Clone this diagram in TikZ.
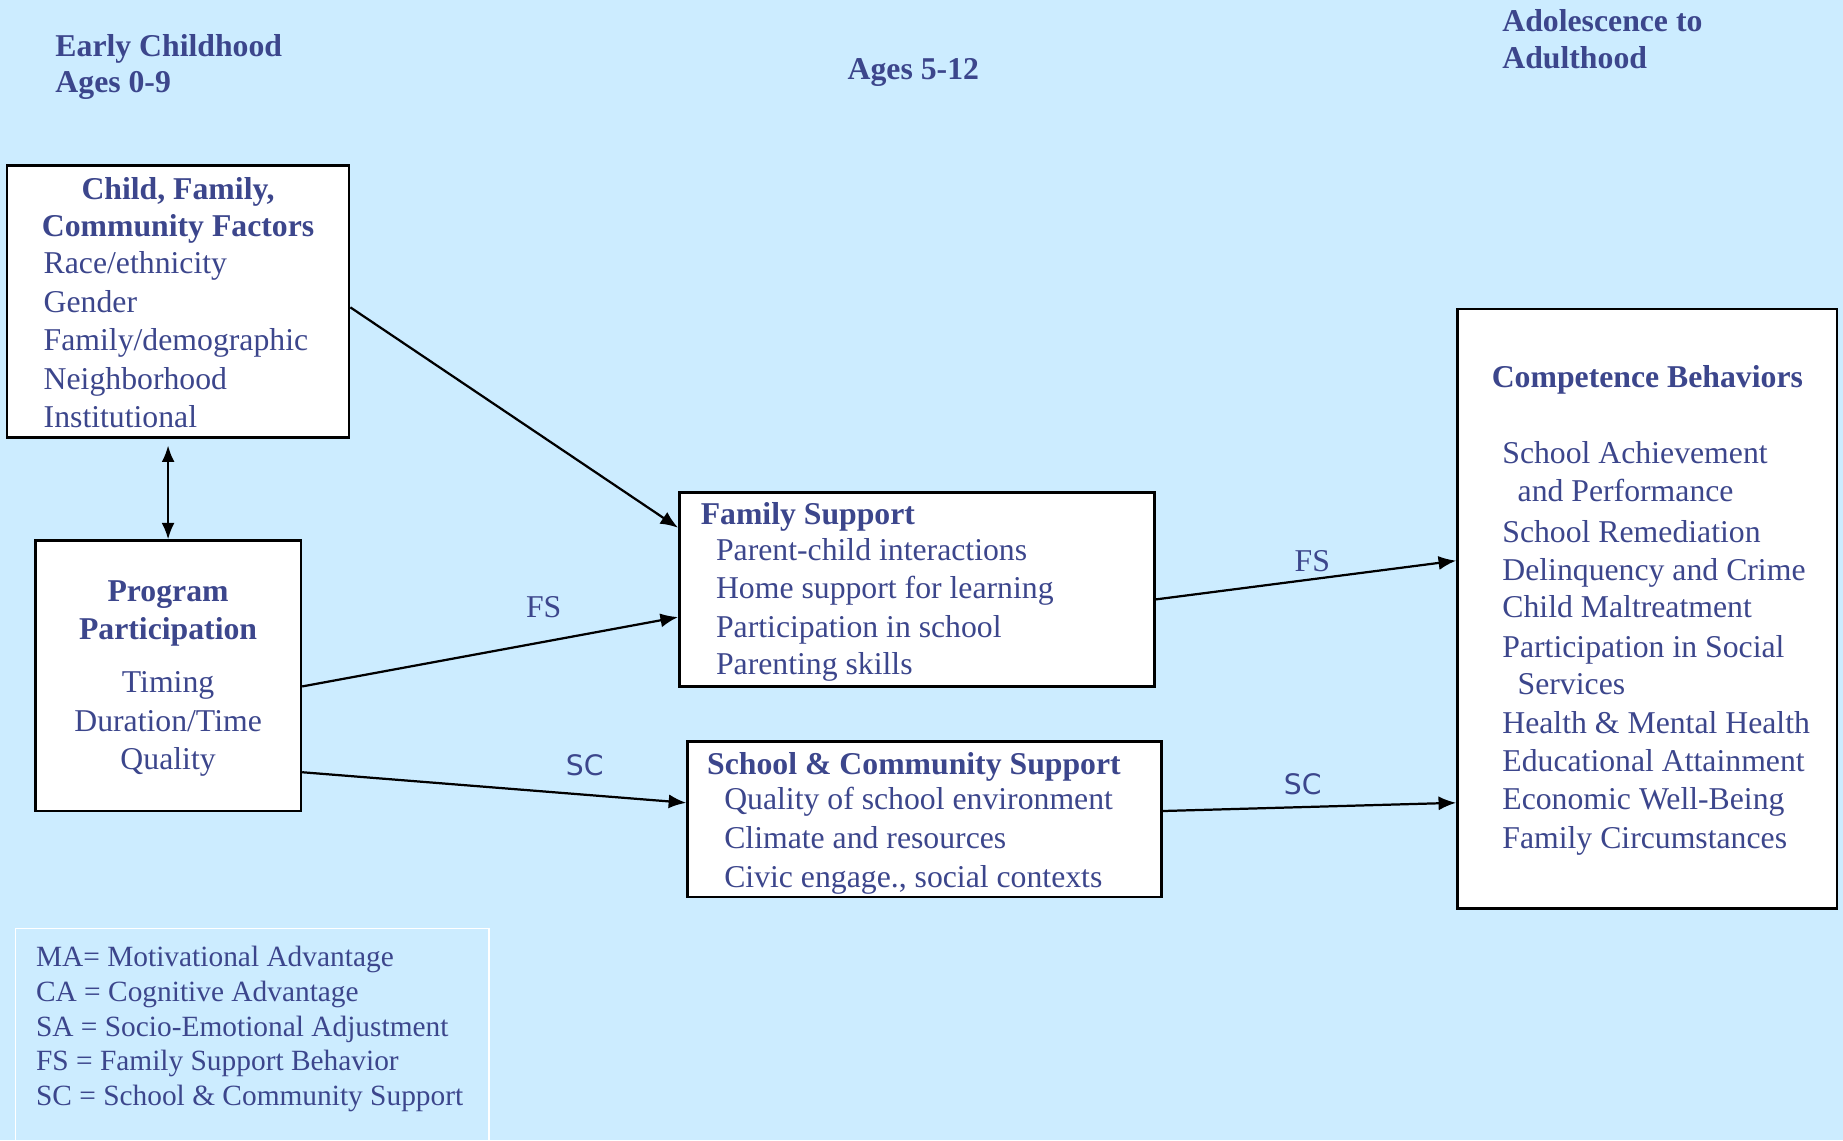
\documentclass[tikz,border=0pt]{standalone}
\usepackage{fontspec}
\setmainfont{Liberation Serif}
\newfontfamily\labsans{DejaVu Sans}
\usetikzlibrary{arrows.meta}
\definecolor{bg}{RGB}{204,236,255}
\definecolor{tc}{RGB}{60,70,140}
\tikzset{
  box/.style={draw=black, fill=white, line width=2.2pt, inner sep=0pt, rectangle},
  legbox/.style={draw=white, line width=1.3pt, inner sep=0pt, rectangle},
  bodytxt/.style={anchor=base west, inner sep=0pt, text=tc, font=\fontsize{27}{33}\selectfont},
  boldtxt/.style={anchor=base west, inner sep=0pt, text=tc, font=\fontsize{27}{33}\selectfont\bfseries},
  cbody/.style={anchor=base, inner sep=0pt, text=tc, font=\fontsize{27}{33}\selectfont},
  cbold/.style={anchor=base, inner sep=0pt, text=tc, font=\fontsize{27}{33}\selectfont\bfseries},
  legtxt/.style={anchor=base west, inner sep=0pt, text=tc, font=\fontsize{25}{30}\selectfont},
  fslab/.style={anchor=base, inner sep=0pt, text=tc, font=\fontsize{27}{33}\selectfont},
  sclab/.style={anchor=base, inner sep=0pt, text=tc, font=\labsans\fontsize{24}{30}\selectfont},
  conn/.style={line width=1.9pt, -{Latex[length=15pt,width=12pt]}},
  dconn/.style={line width=1.9pt, {Latex[length=14pt,width=11pt]}-{Latex[length=14pt,width=11pt]}}
}
\begin{document}
\begin{tikzpicture}[x=1pt,y=-1pt]
\path[use as bounding box, fill=bg] (0,0) rectangle (1568,970);
\clip (0,0) rectangle (1568,970);

% headers
\node[boldtxt] (h1a) at (47,48) {Early Childhood};
\node[boldtxt] (h1b) at (47,79) {Ages 0-9};
\node[boldtxt] (h2) at (721,68) {Ages 5-12};
\node[boldtxt] (h3a) at (1278,27) {Adolescence to};
\node[boldtxt] (h3b) at (1278,58) {Adulthood};

% boxes
\node[box, minimum width=291pt, minimum height=231pt] (child) at (151.5,256.5) {};
\node[box, minimum width=226pt, minimum height=230pt] (prog) at (143,575) {};
\node[box, minimum width=404pt, minimum height=165pt] (fam) at (780,501.5) {};
\node[box, minimum width=403pt, minimum height=132pt] (school) at (786.5,697) {};
\node[box, minimum width=323pt, minimum height=510pt] (comp) at (1401.5,518) {};
\node[legbox, minimum width=403pt, minimum height=200pt] (leg) at (214.5,890) {};

% child box text
\node[cbold] (c1) at (151.5,169.5) {Child, Family,};
\node[cbold] (c2) at (151.5,201.5) {Community Factors};
\node[bodytxt] (c3) at (37,232.5) {Race/ethnicity};
\node[bodytxt] (c4) at (37,265.5) {Gender};
\node[bodytxt] (c5) at (37,298.5) {Family/demographic};
\node[bodytxt] (c6) at (37,331.5) {Neighborhood};
\node[bodytxt] (c7) at (37,363.5) {Institutional};

% program box text
\node[cbold] (p1) at (143,512) {Program};
\node[cbold] (p2) at (143,544) {Participation};
\node[cbody] (p3) at (143,589) {Timing};
\node[cbody] (p4) at (143,622) {Duration/Time};
\node[cbody] (p5) at (143,655) {Quality};

% family support text
\node[boldtxt] (f1) at (596,446) {Family Support};
\node[bodytxt] (f2) at (609,477) {Parent-child interactions};
\node[bodytxt] (f3) at (609,509) {Home support for learning};
\node[bodytxt] (f4) at (609,542.5) {Participation in school};
\node[bodytxt] (f5) at (609,574) {Parenting skills};

% school box text
\node[boldtxt] (s1) at (601.5,658.5) {School \& Community Support};
\node[bodytxt] (s2) at (616,689) {Quality of school environment};
\node[bodytxt] (s3) at (616,722) {Climate and resources};
\node[bodytxt] (s4) at (616,755) {Civic engage., social contexts};

% competence box text
\node[boldtxt] (k0) at (1269,329.5) {Competence Behaviors};
\node[bodytxt] (k1) at (1278,394) {School Achievement};
\node[bodytxt] (k2) at (1291,427) {and Performance};
\node[bodytxt] (k3) at (1278,461.5) {School Remediation};
\node[bodytxt] (k4) at (1278,494) {Delinquency and Crime};
\node[bodytxt] (k5) at (1278,525) {Child Maltreatment};
\node[bodytxt] (k6) at (1278,559) {Participation in Social};
\node[bodytxt] (k7) at (1291,591) {Services};
\node[bodytxt] (k8) at (1278,624) {Health \& Mental Health};
\node[bodytxt] (k9) at (1278,656.5) {Educational Attainment};
\node[bodytxt] (k10) at (1278,689) {Economic Well-Being};
\node[bodytxt] (k11) at (1278,722) {Family Circumstances};

% legend
\node[legtxt] (l1) at (30.5,822.3) {MA= Motivational Advantage};
\node[legtxt] (l2) at (30.5,852) {CA = Cognitive Advantage};
\node[legtxt] (l3) at (30.5,881.5) {SA = Socio-Emotional Adjustment};
\node[legtxt] (l4) at (30.5,911) {FS = Family Support Behavior};
\node[legtxt] (l5) at (30.5,940.5) {SC = School \& Community Support};

% connectors
\coordinate (dtop) at (143,379);
\draw[dconn] (dtop) -- (prog.north);
\draw[conn] ([yshift=-5pt]child.east) -- ([yshift=52.5pt]fam.west);
\draw[conn] ([yshift=-9pt]prog.east) -- ([yshift=-23.5pt]fam.west);
\draw[conn] ([yshift=-82pt]prog.east) -- ([yshift=14pt]school.west);
\draw[conn] ([yshift=-8.5pt]fam.east) -- ([yshift=41pt]comp.west);
\draw[conn] ([yshift=7pt]school.east) -- ([yshift=-165pt]comp.west);

% connector labels
\node[fslab] (fsa) at (462.6,525) {FS};
\node[fslab] (fsb) at (1116.5,486.5) {FS};
\node[sclab] (sca) at (497.4,660) {SC};
\node[sclab] (scb) at (1108.3,676) {SC};
\end{tikzpicture}
\end{document}
